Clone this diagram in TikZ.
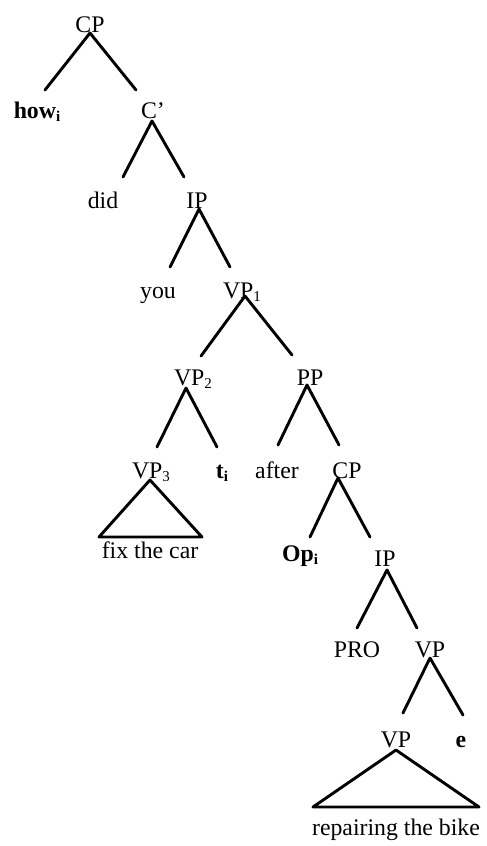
\documentclass[tikz,border=0pt]{standalone}
\usepackage{fontspec}
\setmainfont{Liberation Serif}
\newcommand{\lowsub}[1]{\raisebox{-0.35ex}{\fontsize{15}{15}\selectfont #1}}
\begin{document}
\begin{tikzpicture}[x=1pt,y=-1pt,
  lbl/.style={inner sep=0pt, anchor=base, font=\fontsize{23.8}{28}\selectfont},
  br/.style={line width=2.9pt, line cap=round, line join=round}]
\useasboundingbox (0,0) rectangle (487,846);
% nodes (center x, baseline y)
\node[lbl] (CP) at (90,32) {CP};
\node[lbl] (how) at (37,118) {\textbf{how\lowsub{i}}};
\node[lbl] (Cb) at (153,118) {C'};
\node[lbl] (did) at (103,208) {did};
\node[lbl] (IP) at (197,208) {IP};
\node[lbl] (you) at (158,298) {you};
\node[lbl] (VPa) at (242,298) {VP\lowsub{1}};
\node[lbl] (VPb) at (193,385) {VP\lowsub{2}};
\node[lbl] (PP) at (310,385) {PP};
\node[lbl] (VPc) at (151,478) {VP\lowsub{3}};
\node[lbl] (t) at (222,478) {\textbf{t\lowsub{i}}};
\node[lbl] (after) at (277,478) {after};
\node[lbl] (CPb) at (347,478) {CP};
\node[lbl] (fix) at (150,558) {fix the car};
\node[lbl] (Op) at (300,561) {\textbf{Op\lowsub{i}}};
\node[lbl] (IPb) at (385,566) {IP};
\node[lbl] (PRO) at (357,657) {PRO};
\node[lbl] (VPd) at (430,657) {VP};
\node[lbl] (VPe) at (396,747) {VP};
\node[lbl] (e) at (461,747) {\textbf{e}};
\node[lbl] (rep) at (396,835) {repairing the bike};
% branches
\draw[br] ([yshift=-1pt]CP.base) -- ([xshift=8pt,yshift=28pt]how.base);
\draw[br] ([yshift=-1pt]CP.base) -- ([xshift=-17pt,yshift=28pt]Cb.base);
\draw[br] ([xshift=-1pt,yshift=-3pt]Cb.base) -- ([xshift=20pt,yshift=31pt]did.base);
\draw[br] ([xshift=-1pt,yshift=-3pt]Cb.base) -- ([xshift=-13pt,yshift=31pt]IP.base);
\draw[br] ([xshift=2pt,yshift=-1pt]IP.base) -- ([xshift=12pt,yshift=31pt]you.base);
\draw[br] ([xshift=2pt,yshift=-1pt]IP.base) -- ([xshift=-12pt,yshift=31pt]VPa.base);
\draw[br] ([xshift=3pt,yshift=2pt]VPa.base) -- ([xshift=8pt,yshift=29pt]VPb.base);
\draw[br] ([xshift=3pt,yshift=2pt]VPa.base) -- ([xshift=-18pt,yshift=30pt]PP.base);
\draw[br] ([xshift=-7pt,yshift=-3pt]VPb.base) -- ([xshift=6pt,yshift=31pt]VPc.base);
\draw[br] ([xshift=-7pt,yshift=-3pt]VPb.base) -- ([xshift=-5pt,yshift=31pt]t.base);
\draw[br] ([xshift=-3pt]PP.base) -- ([xshift=1pt,yshift=33pt]after.base);
\draw[br] ([xshift=-3pt]PP.base) -- ([xshift=-8pt,yshift=33pt]CPb.base);
\draw[br] ([xshift=-9pt]CPb.base) -- ([xshift=10pt,yshift=24pt]Op.base);
\draw[br] ([xshift=-9pt]CPb.base) -- ([xshift=-15pt,yshift=29pt]IPb.base);
\draw[br] ([xshift=2pt,yshift=-4pt]IPb.base) -- ([xshift=0pt,yshift=29pt]PRO.base);
\draw[br] ([xshift=2pt,yshift=-4pt]IPb.base) -- ([xshift=-13pt,yshift=29pt]VPd.base);
\draw[br] ([yshift=-1pt]VPd.base) -- ([xshift=7pt,yshift=34pt]VPe.base);
\draw[br] ([yshift=-1pt]VPd.base) -- ([xshift=2pt,yshift=32pt]e.base);
% triangles
\draw[br] ([xshift=-1pt,yshift=-2pt]VPc.base) -- ([xshift=-51pt,yshift=21pt]fix.base) -- ([xshift=52pt,yshift=21pt]fix.base) -- cycle;
\draw[br] ([yshift=-3pt]VPe.base) -- ([xshift=-83pt,yshift=28pt]rep.base) -- ([xshift=83pt,yshift=28pt]rep.base) -- cycle;
\end{tikzpicture}
\end{document}
